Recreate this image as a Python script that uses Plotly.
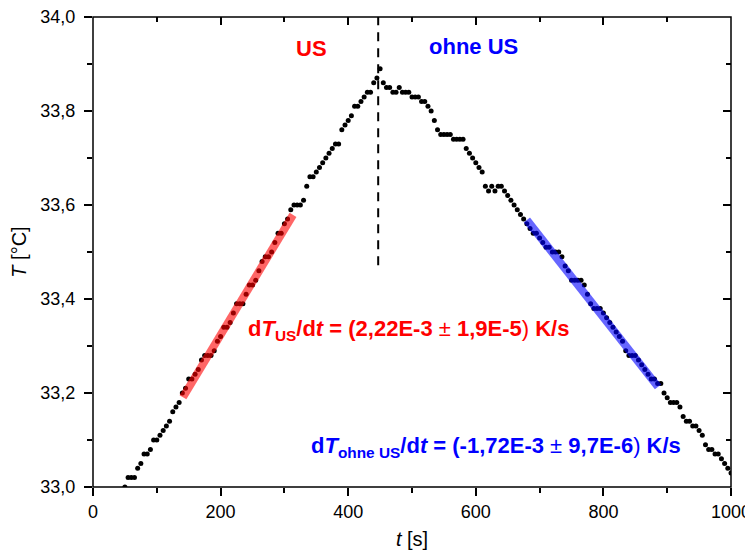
import plotly.graph_objects as go

# measurement times [s] (sampling grid) and temperatures [°C]
time_s = list(range(50, 1001, 5))
temp_c = [
    33.00, 33.02, 33.02, 33.02, 33.04, 33.05, 33.07, 33.07, 33.08, 33.10,
    33.10, 33.11, 33.12, 33.13, 33.14, 33.16, 33.17, 33.18, 33.20, 33.21,
    33.23, 33.23, 33.24, 33.25, 33.27, 33.28, 33.28, 33.28, 33.29, 33.31,
    33.32, 33.34, 33.34, 33.35, 33.37, 33.39, 33.39, 33.39, 33.41, 33.43,
    33.43, 33.44, 33.46, 33.48, 33.49, 33.49, 33.50, 33.52, 33.54, 33.54,
    33.56, 33.57, 33.59, 33.60, 33.60, 33.60, 33.61, 33.64, 33.66, 33.66,
    33.67, 33.68, 33.69, 33.70, 33.71, 33.72, 33.73, 33.73, 33.76, 33.77,
    33.78, 33.79, 33.81, 33.81, 33.82, 33.83, 33.84, 33.84, 33.86, 33.87,
    33.89, 33.86, 33.85, 33.85, 33.84, 33.84, 33.85, 33.84, 33.84, 33.84,
    33.83, 33.83, 33.83, 33.82, 33.82, 33.81, 33.80, 33.78, 33.76, 33.75,
    33.75, 33.75, 33.75, 33.74, 33.74, 33.74, 33.74, 33.72, 33.71, 33.70,
    33.69, 33.68, 33.67, 33.64, 33.63, 33.64, 33.63, 33.64, 33.64, 33.63,
    33.62, 33.61, 33.60, 33.59, 33.58, 33.57, 33.56, 33.55, 33.54, 33.54,
    33.53, 33.52, 33.51, 33.51, 33.50, 33.50, 33.50, 33.49, 33.47, 33.46,
    33.44, 33.44, 33.44, 33.44, 33.43, 33.41, 33.39, 33.38, 33.38, 33.38,
    33.37, 33.36, 33.35, 33.34, 33.33, 33.32, 33.31, 33.29, 33.28, 33.28,
    33.28, 33.27, 33.26, 33.25, 33.24, 33.23, 33.23, 33.22, 33.22, 33.20,
    33.19, 33.18, 33.18, 33.18, 33.17, 33.15, 33.14, 33.14, 33.13, 33.13,
    33.12, 33.11, 33.09, 33.08, 33.08, 33.07, 33.07, 33.06, 33.05, 33.04,
    33.03,
]

# linear fit segments (start/end)
fit_us_t = [141, 313.5]
fit_us_T = [33.191, 33.579]
fit_ohne_t = [680, 885.6]
fit_ohne_T = [33.568, 33.213]

# switch-off marker
switch_t = [447, 447]
switch_T = [33.472, 34.0]

x_range = [0, 1000]
y_range = [33.0, 34.0]
x_ticks = [0, 200, 400, 600, 800, 1000]
y_ticks = [33.0, 33.2, 33.4, 33.6, 33.8, 34.0]
y_ticklabels = ["33,0", "33,2", "33,4", "33,6", "33,8", "34,0"]

FONT = "Liberation Sans, Arial, sans-serif"

fig = go.Figure()
fig.add_trace(go.Scatter(x=time_s, y=temp_c, mode="markers",
                         marker=dict(color="black", size=5, line=dict(width=0)),
                         showlegend=False))
fig.add_trace(go.Scatter(x=fit_us_t, y=fit_us_T, mode="lines",
                         line=dict(color="rgba(255,0,0,0.6)", width=8),
                         showlegend=False))
fig.add_trace(go.Scatter(x=fit_ohne_t, y=fit_ohne_T, mode="lines",
                         line=dict(color="rgba(0,0,255,0.6)", width=8),
                         showlegend=False))
fig.add_trace(go.Scatter(x=switch_t, y=switch_T, mode="lines",
                         line=dict(color="black", width=2, dash="9px,7px"),
                         showlegend=False))
# dummy trace for the mirrored (top/right) axes
fig.add_trace(go.Scatter(x=[0], y=[33.0], xaxis="x2", yaxis="y2",
                         mode="markers", marker=dict(opacity=0),
                         showlegend=False, hoverinfo="skip"))

axis_common = dict(showgrid=False, zeroline=False, showline=False,
                   tickcolor="black", tickwidth=1.5, automargin=False)

# page body has an 8px default margin, so the figure is sized/placed to compensate
fig.update_layout(
    width=745, height=544,
    margin=dict(l=85, r=22, t=9, b=65, autoexpand=False),
    paper_bgcolor="white", plot_bgcolor="white",
    separators=",.",
    font=dict(family=FONT, size=18, color="black"),
    xaxis=dict(range=x_range, tickvals=x_ticks, ticks="outside", ticklen=8,
               ticklabeloverflow="allow",
               minor=dict(dtick=100, tick0=0, ticks="outside", ticklen=5,
                          tickcolor="black", tickwidth=1.5),
               tickfont=dict(size=18),
               title=dict(text="<i>t</i> [s]", font=dict(size=20), standoff=11),
               **axis_common),
    yaxis=dict(range=y_range, tickvals=y_ticks, ticktext=y_ticklabels,
               ticks="outside", ticklen=8, ticklabelstandoff=5,
               ticklabeloverflow="allow",
               minor=dict(dtick=0.1, tick0=33.0, ticks="outside", ticklen=5,
                          tickcolor="black", tickwidth=1.5),
               tickfont=dict(size=18),
               title=dict(text="<i>T</i> [°C]", font=dict(size=20), standoff=10),
               **axis_common),
    xaxis2=dict(range=x_range, overlaying="x", side="top", anchor="y",
                tickvals=x_ticks, ticks="inside", ticklen=8, showticklabels=False,
                minor=dict(dtick=100, tick0=0, ticks="inside", ticklen=5,
                           tickcolor="black", tickwidth=1.5),
                **axis_common),
    yaxis2=dict(range=y_range, overlaying="y", side="right", anchor="x",
                tickvals=y_ticks, ticks="inside", ticklen=8, showticklabels=False,
                minor=dict(dtick=0.1, tick0=33.0, ticks="inside", ticklen=5,
                           tickcolor="black", tickwidth=1.5),
                **axis_common),
)

# plot frame
fig.add_shape(type="rect", xref="paper", yref="paper", x0=0, x1=1, y0=0, y1=1,
              line=dict(color="black", width=1.5), layer="above")

RED = "#FF0000"
BLUE = "#0000FF"
fig.add_annotation(x=342, y=33.934, xref="x", yref="y", text="<b>US</b>",
                   showarrow=False, font=dict(size=22, color=RED, family=FONT))
fig.add_annotation(x=597, y=33.938, xref="x", yref="y", text="<b>ohne US</b>",
                   showarrow=False, font=dict(size=22, color=BLUE, family=FONT))
fig.add_annotation(
    x=494, y=33.334, xref="x", yref="y", showarrow=False,
    text="<b>d<i>T</i><sub>US</sub>/d<i>t</i> = (2,22E-3 </b>±<b> 1,9E-5</b>)<b> K/s</b>",
    font=dict(size=22, color=RED, family=FONT))
fig.add_annotation(
    x=632, y=33.085, xref="x", yref="y", showarrow=False,
    text="<b>d<i>T</i><sub>ohne US</sub>/d<i>t</i> = (-1,72E-3 </b>±<b> 9,7E-6</b>)<b> K/s</b>",
    font=dict(size=22, color=BLUE, family=FONT))

fig.write_html("out.html")
